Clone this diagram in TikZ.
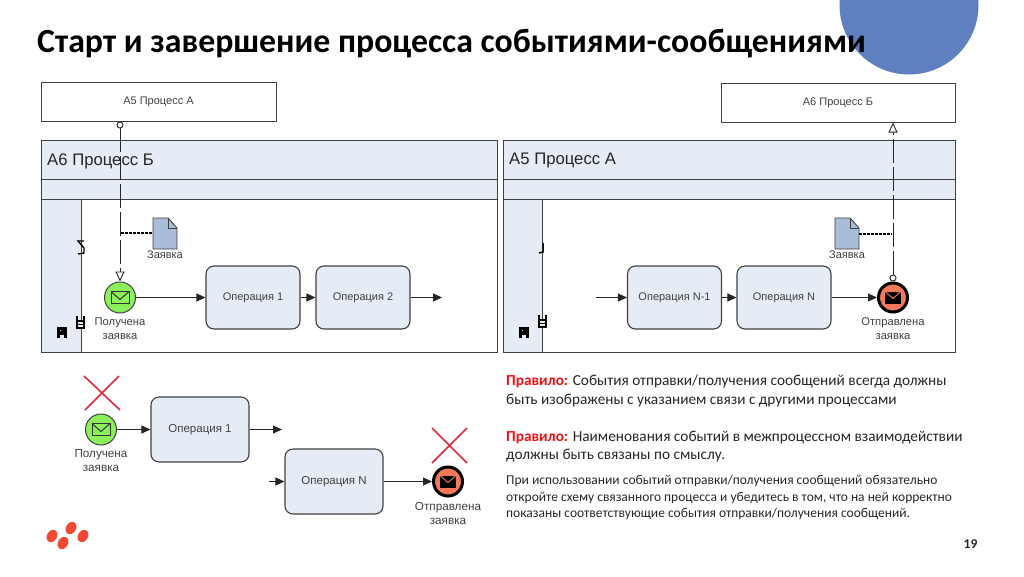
\documentclass[tikz,border=0pt]{standalone}
\usepackage{fontspec}
\setmainfont{Carlito}
\newfontfamily\diagfont{Liberation Sans}
\usetikzlibrary{arrows.meta,calc}
\definecolor{lineGray}{HTML}{404040}
\definecolor{bandBlue}{HTML}{E6ECF6}
\definecolor{docBlue}{HTML}{A9BCD8}
\definecolor{startGreen}{HTML}{8CF05A}
\definecolor{endRed}{HTML}{F4785A}
\definecolor{crossRed}{HTML}{E0283C}
\definecolor{logoRed}{HTML}{F04A32}
\definecolor{blobBlue}{HTML}{5F80C0}
\definecolor{ruleRed}{HTML}{EE1111}
\definecolor{textGray}{HTML}{262626}
\tikzset{
  procbox/.style={draw=lineGray,fill=white,line width=1pt,minimum width=235pt,minimum height=39pt,inner sep=0pt,font=\diagfont\fontsize{11}{12}\selectfont,text=lineGray},
  opbox/.style={draw=lineGray,fill=bandBlue,line width=1.1pt,rounded corners=8pt,minimum width=94pt,minimum height=63pt,inner sep=0pt,font=\diagfont\fontsize{11}{12}\selectfont,text=lineGray},
  lowbox/.style={opbox,minimum width=98pt,minimum height=65pt,font=\diagfont\fontsize{11.5}{12}\selectfont},
  startev/.style={circle,draw=lineGray,fill=startGreen,line width=1pt,minimum size=31pt,inner sep=0pt},
  endev/.style={circle,draw=black,fill=endRed,line width=3pt,minimum size=29pt,inner sep=0pt},
  lbl/.style={align=center,inner sep=0pt,font=\diagfont\fontsize{11.2}{14}\selectfont,text=lineGray},
  lowlbl/.style={lbl,font=\diagfont\fontsize{11.7}{14}\selectfont},
  doclbl/.style={inner sep=0pt,font=\diagfont\fontsize{11}{12}\selectfont,text=lineGray},
  flow/.style={-{Triangle[length=9pt,width=8pt]},line width=0.9pt,draw=black!85},
  msg/.style={draw=black!85,line width=0.9pt,dash pattern=on 24pt off 4pt},
  pooltext/.style={anchor=west,inner sep=0pt,font=\diagfont\fontsize{16.7}{18}\selectfont,text=black!85},
  rule/.style={anchor=west,align=left,inner sep=0pt,font=\fontsize{15.3}{18.6}\selectfont,text=textGray},
  cross/.style={draw=crossRed,line width=1.6pt}
}
\newcommand{\envelope}[3]{%
  \draw[line width=1pt,draw=#3,fill=#2] ($(#1)+(-9,-6)$) rectangle ($(#1)+(9,6)$);
  \draw[line width=1pt,draw=#3] ($(#1)+(-9,-6)$) -- ($(#1)+(0,2)$) -- ($(#1)+(9,-6)$);
}
\begin{document}
\begin{tikzpicture}[x=1pt,y=-1pt]
\useasboundingbox (0,0) rectangle (1024,576);
\begin{scope}
\clip (0,0) rectangle (1024,576);
\fill[blobBlue] (909,5) circle (69.5);
\end{scope}
\node[anchor=west,inner sep=0pt,font=\bfseries\fontsize{33.8}{36}\selectfont,text=black] (title) at (37,43.5) {Старт и завершение процесса событиями-сообщениями};

\draw[draw=lineGray,line width=1pt,fill=bandBlue] (41,140) rectangle (497,179);
\draw[draw=lineGray,line width=1pt,fill=bandBlue] (41,179) rectangle (497,199);
\draw[draw=lineGray,line width=1pt,fill=white] (41,199) rectangle (497,352);
\draw[draw=lineGray,line width=1pt,fill=bandBlue] (41,199) rectangle (81,352);
\node[pooltext] (poolB) at (47,161) {А6 Процесс Б};

\draw[draw=lineGray,line width=1pt,fill=bandBlue] (503,140) rectangle (955,179);
\draw[draw=lineGray,line width=1pt,fill=bandBlue] (503,179) rectangle (955,199);
\draw[draw=lineGray,line width=1pt,fill=white] (503,199) rectangle (955,352);
\draw[draw=lineGray,line width=1pt,fill=bandBlue] (503,199) rectangle (542,352);
\node[pooltext] (poolA) at (509,160) {А5 Процесс А};

\draw[line width=1.4pt] (84,241) -- (78,241) -- (84,248) -- (84,253) -- (78,254);
\draw[line width=1.5pt] (543,243) -- (543,252) -- (539,253);
\draw[line width=1.2pt,fill=bandBlue] (77,321) rectangle (84,328);
\draw[line width=1.2pt] (77,321) -- (77,316);
\draw[line width=1.2pt] (84,321) -- (84,316);
\draw[line width=1.2pt] (77,324.5) -- (84,324.5);
\draw[line width=1.2pt,fill=bandBlue] (539,320) rectangle (546,327);
\draw[line width=1.2pt] (539,320) -- (539,315);
\draw[line width=1.2pt] (546,320) -- (546,315);
\draw[line width=1.2pt] (539,323.5) -- (546,323.5);
\fill[black] (57,327) rectangle (67,338);
\fill[bandBlue] (60,335) rectangle (64,338);
\fill[bandBlue] (60,330) rectangle (61,331);
\fill[black] (519,327) rectangle (529,338);
\fill[bandBlue] (522,335) rectangle (526,338);
\fill[bandBlue] (522,330) rectangle (523,331);

\node[procbox] (procA) at (158.5,101.5) {А5 Процесс А};
\node[procbox,minimum width=234pt] (procB) at (838,102.5) {А6 Процесс Б};

\node[startev] (startTop) at (120,297.5) {};
\envelope{startTop}{startGreen}{black!80}
\node[endev] (endTop) at (893,297.5) {};
\fill[black] ($(endTop)+(-8,-6)$) rectangle ($(endTop)+(8,6)$);
\draw[endRed,line width=0.9pt] ($(endTop)+(-8,-6)$) -- ($(endTop)+(0,1)$) -- ($(endTop)+(8,-6)$);

\node[opbox] (op1) at (253,297.5) {Операция 1};
\node[opbox] (op2) at (363,297.5) {Операция 2};
\node[opbox] (opN1) at (674.5,297.5) {Операция N-1};
\node[opbox] (opN) at (784,297.5) {Операция N};
\coordinate (op2out) at (442,297.5);
\coordinate (opN1in) at (596,297.5);

\draw[flow] (startTop) -- (op1);
\draw[flow] (op1) -- (op2);
\draw[flow] (op2) -- (op2out);
\draw[flow] (opN1in) -- (opN1);
\draw[flow] (opN1) -- (opN);
\draw[flow] (opN) -- (endTop);

\draw[msg,{Circle[open,fill=white,length=7pt,width=7pt]}-{Triangle[open,fill=white,length=10pt,width=9pt]}] (procA.south -| startTop) -- (startTop);
\draw[msg,{Circle[open,fill=white,length=7pt,width=7pt]}-{Triangle[open,fill=white,length=10pt,width=9pt]}] (endTop) -- (endTop |- procB.south);

\draw[line width=0.9pt,draw=lineGray,fill=docBlue] (153,218) -- (168,218) -- (177,228) -- (177,249) -- (153,249) -- cycle;
\draw[line width=0.9pt,draw=lineGray] (168,218) -- (168,228) -- (177,228);
\draw[line width=0.9pt,draw=lineGray,fill=docBlue] (835,218) -- (850,218) -- (859,228) -- (859,249) -- (835,249) -- cycle;
\draw[line width=0.9pt,draw=lineGray] (850,218) -- (850,228) -- (859,228);
\coordinate (docA) at (153,233);
\coordinate (flowA) at (121,233);
\coordinate (docB) at (859,234);
\coordinate (flowB) at (892,234);
\draw[black,line width=1.3pt,dash pattern=on 2.5pt off 1.5pt] (flowA) -- (docA);
\draw[black,line width=1.3pt,dash pattern=on 2.5pt off 1.5pt] (docB) -- (flowB);
\node[doclbl] (docAtext) at (165,254.5) {Заявка};
\node[doclbl] (docBtext) at (847,254.5) {Заявка};
\node[lbl] (startTopText) at (120,329) {Получена\\заявка};
\node[lbl] (endTopText) at (893,329) {Отправлена\\заявка};

\draw[cross] (84,376) -- (120,410);
\draw[cross] (119,376) -- (85,410);
\node[startev] (startLow) at (101,429.5) {};
\envelope{startLow}{startGreen}{black!80}
\node[lowlbl] (startLowText) at (101,461) {Получена\\заявка};
\node[lowbox] (opLow1) at (200,429.5) {Операция 1};
\node[lowbox] (opLowN) at (334,481.5) {Операция N};
\coordinate (opLow1out) at (282,429.5);
\coordinate (opLowNin) at (269,481.5);
\node[endev] (endLow) at (448,481.5) {};
\fill[black] ($(endLow)+(-8,-6)$) rectangle ($(endLow)+(8,6)$);
\draw[endRed,line width=0.9pt] ($(endLow)+(-8,-6)$) -- ($(endLow)+(0,1)$) -- ($(endLow)+(8,-6)$);
\node[lowlbl] (endLowText) at (448,513.5) {Отправлена\\заявка};
\draw[flow] (startLow) -- (opLow1);
\draw[flow] (opLow1) -- (opLow1out);
\draw[flow] (opLowNin) -- (opLowN);
\draw[flow] (opLowN) -- (endLow);
\draw[cross] (432,428) -- (467,463);
\draw[cross] (467,428) -- (432,463);

\fill[logoRed,rotate around={60:(52,536)}] (52,536) ellipse (6.5 and 5);
\fill[logoRed,rotate around={60:(71,528)}] (71,528) ellipse (6.5 and 5);
\fill[logoRed,rotate around={60:(63,543)}] (63,543) ellipse (6.5 and 5);
\fill[logoRed,rotate around={60:(83,536)}] (83,536) ellipse (6.5 and 5);

\node[rule] (rule1) at (506,391) {{\bfseries\color{ruleRed}Правило:} События отправки/получения сообщений всегда должны\\быть изображены с указанием связи с другими процессами};
\node[rule] (rule2) at (506,446.5) {{\bfseries\color{ruleRed}Правило:} Наименования событий в межпроцессном взаимодействии\\должны быть связаны по смыслу.};
\node[rule,font=\fontsize{13.5}{16.6}\selectfont] (rule3) at (506,497.5) {При использовании событий отправки/получения сообщений обязательно\\откройте схему связанного процесса и убедитесь в том, что на ней корректно\\показаны соответствующие события отправки/получения сообщений.};
\node[inner sep=0pt,font=\bfseries\fontsize{13.5}{14}\selectfont,text=textGray] (pageno) at (970.5,544) {19};
\end{tikzpicture}
\end{document}
